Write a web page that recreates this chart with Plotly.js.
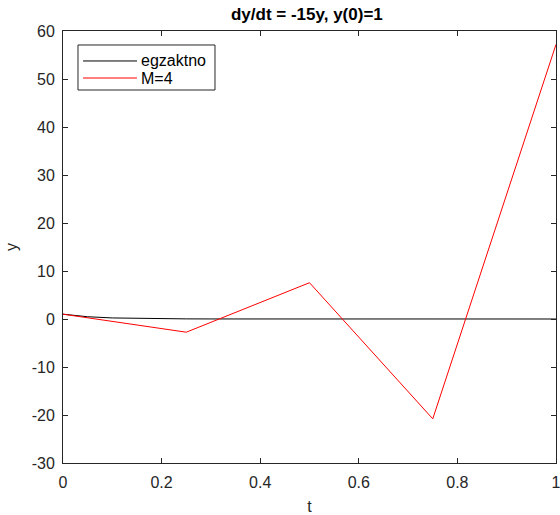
<!DOCTYPE html>
<html><head><meta charset="utf-8">
<script src="https://cdn.plot.ly/plotly-3.0.1.min.js"></script>
<style>html,body{margin:0;padding:0;background:#fff;}#g{width:560px;height:515px;}</style>
</head><body><div id="g"></div>
<script>
const tExact = [0,0.05,0.1,0.15,0.2,0.25,0.3,0.4,0.5,0.6,0.7,0.8,0.9,1];
const yExact = [1,0.47,0.22,0.105,0.05,0.024,0.011,0.0025,0.0006,0,0,0,0,0];
const tEuler = [0,0.25,0.5,0.75,1];
const yEuler = [1,-2.75,7.56,-20.8,57.2];
const seriesNames = ['egzaktno','M=4'];
const seriesColors = ['#000000','#ff0000'];
const xTicks = [0,0.2,0.4,0.6,0.8,1];
const xTickText = ['0','0.2','0.4','0.6','0.8','1'];
const yTicks = [-30,-20,-10,0,10,20,30,40,50,60];
const yTickText = ['-30','-20','-10','0','10','20','30','40','50','60'];

const FAM = 'Liberation Sans, Arial, sans-serif';
const font = {family:FAM, size:16, color:'#262626'};
const traces = [
  {x:tExact, y:yExact, mode:'lines', name:seriesNames[0], line:{color:seriesColors[0], width:1}},
  {x:tEuler, y:yEuler, mode:'lines', name:seriesNames[1], line:{color:seriesColors[1], width:1}}
];
const axisCommon = {showline:true, mirror:'ticks', linecolor:'#262626', linewidth:1,
  ticks:'inside', ticklen:5, tickcolor:'#262626', showgrid:false, zeroline:false,
  tickfont:font, ticklabeloverflow:'allow'};

// manual MATLAB-style legend (paper coords)
const lg = {x0:0.0304, x1:0.3083, y0:0.8634, y1:0.9676, lx0:0.0406, lx1:0.1501, tx:0.1542, rows:[0.9306,0.8912]};
const shapes = [{type:'rect', xref:'paper', yref:'paper', x0:lg.x0, x1:lg.x1, y0:lg.y0, y1:lg.y1,
  line:{color:'#262626', width:1}, fillcolor:'#fff', layer:'above'}];
const annotations = [];
seriesNames.forEach((n,i)=>{
  shapes.push({type:'line', xref:'paper', yref:'paper', x0:lg.lx0, x1:lg.lx1, y0:lg.rows[i], y1:lg.rows[i],
    line:{color:seriesColors[i], width:1}, layer:'above'});
  annotations.push({xref:'paper', yref:'paper', x:lg.tx, y:lg.rows[i], text:n, showarrow:false,
    xanchor:'left', yanchor:'middle', font:{family:FAM, size:16, color:'#000'}});
});

const layout = {
  width:560, height:515,
  margin:{l:63, r:4, t:31, b:52},
  paper_bgcolor:'#fff', plot_bgcolor:'#fff',
  font:font,
  title:{text:'<b>dy/dt = -15y, y(0)=1</b>', font:{family:FAM, size:17, color:'#000'}, x:0.548, xanchor:'center', y:0.972, yanchor:'middle'},
  xaxis:Object.assign({}, axisCommon, {range:[0,1], tickvals:xTicks, ticktext:xTickText, ticklabelstandoff:5,
    title:{text:'t', font:font, standoff:14}}),
  yaxis:Object.assign({}, axisCommon, {range:[-30,60], tickvals:yTicks, ticktext:yTickText, ticklabelstandoff:4,
    title:{text:'y', font:font, standoff:10}}),
  showlegend:false,
  shapes:shapes, annotations:annotations
};
Plotly.newPlot('g', traces, layout, {displayModeBar:false, staticPlot:true});
</script></body></html>
